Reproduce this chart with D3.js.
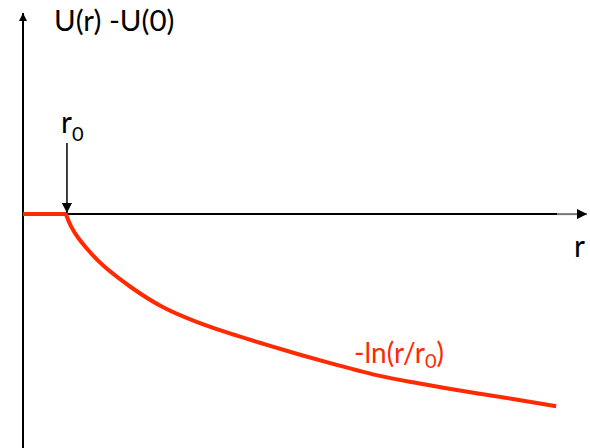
<!DOCTYPE html>
<html>
<head>
<meta charset="utf-8">
<script src="https://cdn.jsdelivr.net/npm/d3@7"></script>
<style>
  body { margin: 0; background: #fff; }
  text { font-family: Lato, "Open Sans", sans-serif; }
</style>
</head>
<body>
<div id="chart"></div>
<script>
// r in units of r0, U(r)-U(0)
const rValues = [0, 1.0, 1.093, 1.286, 1.519, 1.830, 2.488, 3.263, 4.040, 4.814, 5.588, 6.365, 7.063, 8.302, 9.077, 9.853, 10.628, 11.402, 12.412]
const uValues = [0, 0, -0.145, -0.320, -0.474, -0.671, -0.957, -1.241, -1.417, -1.570, -1.701, -1.833, -1.943, -2.132, -2.207, -2.286, -2.359, -2.425, -2.522]
const r0 = 1

let dim = {width: 590, height: 448}

let svg = d3.select('#chart').append('svg')
    .attr('width', dim.width)
    .attr('height', dim.height)

let scaleX = d3.scaleLinear().domain([0, 13.2]).range([23, 590])
let scaleY = d3.scaleLinear().domain([2.64, -3.07]).range([13, 448])

let defs = svg.append('defs')
defs.append('marker')
    .attr('id', 'head')
    .attr('viewBox', '0 0 10 10')
    .attr('refX', 10).attr('refY', 5)
    .attr('markerWidth', 8).attr('markerHeight', 8)
    .attr('markerUnits', 'userSpaceOnUse')
    .attr('orient', 'auto')
  .append('path')
    .attr('d', 'M0,0 L10,5 L0,10 Z')
    .attr('fill', '#000')
defs.append('marker')
    .attr('id', 'headBig')
    .attr('viewBox', '0 0 10 10')
    .attr('refX', 10).attr('refY', 5)
    .attr('markerWidth', 11).attr('markerHeight', 10)
    .attr('markerUnits', 'userSpaceOnUse')
    .attr('orient', 'auto')
  .append('path')
    .attr('d', 'M0,0 L10,5 L0,10 Z')
    .attr('fill', '#000')

// horizontal axis (no ticks)
let axisX = d3.axisBottom(scaleX).tickValues([]).tickSizeOuter(0)
let gx = svg.append('g')
    .attr('transform', `translate(0,${scaleY(0)})`)
    .call(axisX)
gx.select('.domain')
    .attr('stroke', '#000')
    .attr('stroke-width', 2)
    .attr('d', `M${scaleX(0)},0H557`)
gx.append('path')
    .attr('d', `M557,0H${scaleX.range()[1] - 3}`)
    .attr('stroke', '#777')
    .attr('stroke-width', 2)
    .attr('marker-end', 'url(#headBig)')

// vertical axis (no ticks)
let axisY = d3.axisLeft(scaleY).tickValues([]).tickSizeOuter(0)
let gy = svg.append('g')
    .attr('transform', `translate(${scaleX(0)},0)`)
    .call(axisY)
gy.select('.domain')
    .attr('stroke', '#000')
    .attr('stroke-width', 2)
    .attr('d', `M0,${scaleY.range()[1]}V${scaleY.range()[0]}`)
    .attr('marker-end', 'url(#head)')

// the curve: flat part, then the logarithmic drop
let pts = rValues.map((r, i) => [r, uValues[i]])
let flat = pts.filter(d => d[0] <= r0)
let drop = pts.filter(d => d[0] >= r0)
let lineFlat = d3.line()
    .x(d => scaleX(d[0]))
    .y(d => scaleY(d[1]))
let lineDrop = d3.line()
    .x(d => scaleX(d[0]))
    .y(d => scaleY(d[1]))
    .curve(d3.curveBasis)
svg.append('path')
    .attr('d', lineFlat(flat) + lineDrop(drop).replace(/^M/, 'L'))
    .attr('fill', 'none')
    .attr('stroke', '#ff2a00')
    .attr('stroke-width', 4)
    .attr('stroke-linejoin', 'round')

// r0 marker arrow
svg.append('line')
    .attr('x1', scaleX(r0) + 1).attr('x2', scaleX(r0) + 1)
    .attr('y1', 143).attr('y2', scaleY(0) - 1)
    .attr('stroke', '#000')
    .attr('stroke-width', 1.5)
    .attr('marker-end', 'url(#headBig)')

// labels
svg.append('text')
    .attr('x', 54).attr('y', 31)
    .attr('font-size', 29.5)
    .text('U(r) -U(0)')

let r0Label = svg.append('text')
    .attr('x', 61).attr('y', 133)
    .attr('font-size', 30)
r0Label.append('tspan').text('r')
r0Label.append('tspan').attr('font-size', 20).attr('dy', 8).text('0')

svg.append('text')
    .attr('x', 574).attr('y', 257)
    .attr('font-size', 30)
    .text('r')

let lnLabel = svg.append('text')
    .attr('x', 354).attr('y', 363)
    .attr('font-size', 28)
    .attr('fill', '#ff2a00')
lnLabel.append('tspan').text('-ln(r/r')
lnLabel.append('tspan').attr('font-size', 20).attr('dy', 5).text('0')
lnLabel.append('tspan').attr('dy', -5).text(')')
</script>
</body>
</html>
